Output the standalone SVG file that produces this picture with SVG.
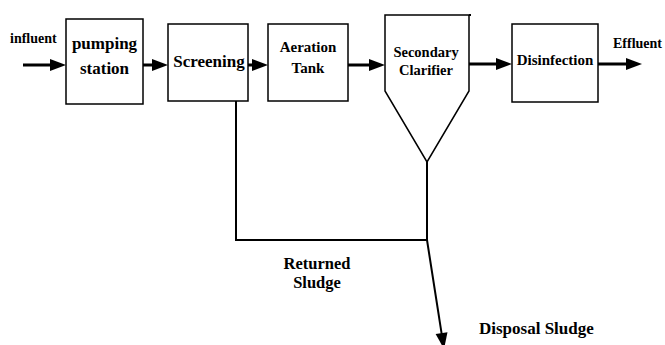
<svg xmlns="http://www.w3.org/2000/svg" width="665" height="345" viewBox="0 0 665 345">
<style>
.box{fill:#fff;stroke:#000;stroke-width:1.5}
text{font-family:'Times New Roman','Liberation Serif','DejaVu Serif',serif;font-weight:700;fill:#000}
.c{text-anchor:middle}
.flow{stroke:#000;stroke-width:3;fill:none}
.pipe{stroke:#000;stroke-width:2;fill:none}
</style>
<defs>
<marker id="ah" markerUnits="userSpaceOnUse" markerWidth="16" markerHeight="12" refX="8" refY="6" orient="auto" overflow="visible">
<path d="M0,0 L16,6 L0,12 Z" fill="#000"/>
</marker>
</defs>
<rect width="665" height="345" fill="#fff"/>
<g id="connectors">
<line class="flow" x1="23" y1="65" x2="58" y2="65" marker-end="url(#ah)"/>
<line class="flow" x1="143" y1="65" x2="160" y2="65" marker-end="url(#ah)"/>
<line class="flow" x1="248" y1="65" x2="260" y2="65" marker-end="url(#ah)"/>
<line class="flow" x1="348" y1="65" x2="377" y2="65" marker-end="url(#ah)"/>
<line class="flow" x1="469" y1="64" x2="504" y2="64" marker-end="url(#ah)"/>
<line class="flow" x1="598" y1="64" x2="634" y2="64" marker-end="url(#ah)"/>
<polyline class="pipe" points="236,101 236,240 427,240"/>
<line class="pipe" x1="427" y1="162" x2="427" y2="240"/>
<line class="pipe" x1="427" y1="240" x2="442.8" y2="341.1" marker-end="url(#ah)"/>
</g>
<g id="influent"><text x="10" y="43" font-size="14">influent</text></g>
<g id="pumping-station">
<rect class="box" x="66" y="19" width="77" height="85"/>
<text class="c" x="104.5" y="49" font-size="17">pumping</text>
<text class="c" x="104.5" y="74" font-size="17">station</text>
</g>
<g id="screening">
<rect class="box" x="168" y="24" width="80" height="77"/>
<text class="c" x="209" y="67" font-size="17">Screening</text>
</g>
<g id="aeration-tank">
<rect class="box" x="268" y="24" width="80" height="77"/>
<text class="c" x="308" y="52" font-size="15">Aeration</text>
<text class="c" x="308" y="73" font-size="15">Tank</text>
</g>
<g id="secondary-clarifier">
<path class="box" d="M385,15 L469,15 L469,91 L427,162 L385,91 Z" stroke-width="2"/>
<line x1="469" y1="15" x2="471" y2="15" stroke="#000" stroke-width="2"/>
<text class="c" x="426" y="57" font-size="14.5">Secondary</text>
<text class="c" x="426" y="75" font-size="14.5">Clarifier</text>
</g>
<g id="disinfection">
<rect class="box" x="512" y="24" width="86" height="78"/>
<text class="c" x="555" y="65" font-size="15">Disinfection</text>
</g>
<g id="effluent"><text x="613" y="48" font-size="14">Effluent</text></g>
<g id="returned-sludge">
<text class="c" x="317" y="269" font-size="16.5">Returned</text>
<text class="c" x="317" y="288" font-size="16.5">Sludge</text>
</g>
<g id="disposal-sludge"><text x="479" y="334" font-size="17">Disposal Sludge</text></g>
</svg>
